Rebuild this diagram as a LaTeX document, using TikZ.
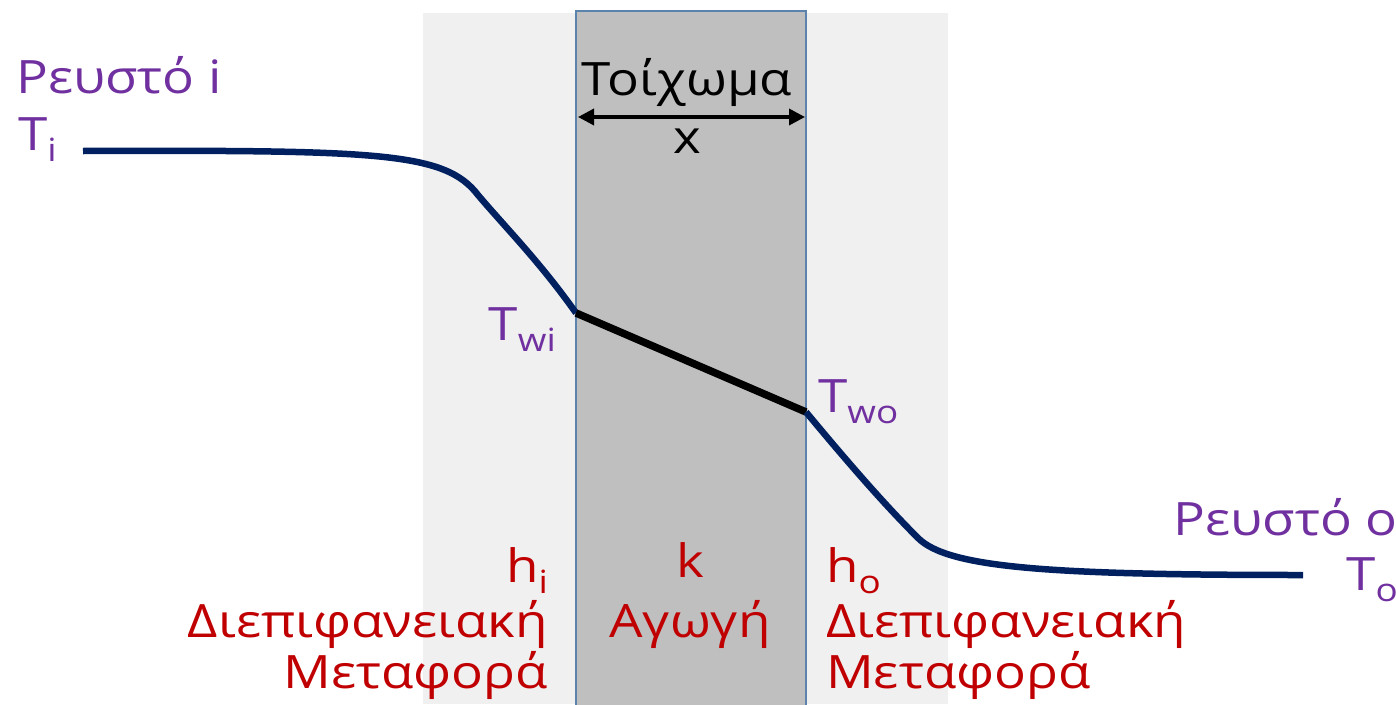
\documentclass[tikz,border=0pt]{standalone}
\usepackage{fontspec}
\setmainfont{Open Sans}
\usetikzlibrary{arrows.meta}
\definecolor{lightband}{HTML}{F0F0F0}
\definecolor{darkband}{HTML}{BFBFBF}
\definecolor{bandedge}{HTML}{5B83AE}
\definecolor{purp}{HTML}{7030A0}
\definecolor{redd}{HTML}{C00000}
\definecolor{navy}{HTML}{002060}
\newcommand{\widetxt}[1]{\scalebox{1.15}[1]{#1}}
\newcommand{\sbs}[1]{\raisebox{-11pt}{\fontsize{32}{34}\selectfont #1}}
\tikzset{
  lbl/.style={inner sep=0pt, font=\fontsize{46}{50}\selectfont},
  purplbl/.style={lbl, text=purp},
  redlbl/.style={lbl, text=redd},
  curve/.style={draw=navy, line width=6.5pt},
  wall/.style={draw=black, line width=7.5pt},
}
\begin{document}
\begin{tikzpicture}[x=1pt,y=-1pt]
\useasboundingbox (0,0) rectangle (1396,704);
\fill[lightband] (423,13) rectangle (948,704);
\filldraw[fill=darkband, draw=bandedge, line width=1.5pt] (576,11) rectangle (806,710);

% curve points
\coordinate (ti) at (83,151);
\coordinate (twi) at (576,313);
\coordinate (two) at (806,412);
\coordinate (to) at (1303,575);

\draw[curve] (ti) .. controls (380,150) and (445,152) .. (478,195)
   .. controls (505,227) and (540,262) .. (twi);
\draw[wall] (twi) -- (two);
\draw[curve] (two) .. controls (850,465) and (885,505) .. (918,538)
   .. controls (948,568) and (1050,575) .. (to);

% wall arrow
\coordinate (al) at (578,117);
\coordinate (ar) at (805,117);
\draw[line width=3.5pt, {Triangle[length=16pt,width=16pt]}-{Triangle[length=16pt,width=16pt]}] (al) -- (ar);
\node[lbl, anchor=base] (wallname) at (687,95) {\widetxt{Τοίχωμα}};
\node[lbl, anchor=base] (xlab) at (687,153) {\widetxt{x}};

% purple labels
\node[purplbl, anchor=base west] (fi) at (16,93) {\widetxt{Ρευστό i}};
\node[purplbl, anchor=base west] (tilab) at (18,150) {\widetxt{T\sbs{i}}};
\node[purplbl, anchor=base east] (twilab) at (556,340) {\widetxt{T\sbs{wi}}};
\node[purplbl, anchor=base west] (twolab) at (818,412) {\widetxt{T\sbs{wo}}};
\node[purplbl, anchor=base east] (fo) at (1398,535) {\widetxt{Ρευστό ο}};
\node[purplbl, anchor=base east] (tolab) at (1398,590) {\widetxt{T\sbs{o}}};

% red labels
\node[redlbl, anchor=base east] (hi) at (548,582) {\widetxt{h\sbs{i}}};
\node[redlbl, anchor=base east] (di) at (548,637) {\widetxt{Διεπιφανειακή}};
\node[redlbl, anchor=base east] (mi) at (548,688) {\widetxt{Μεταφορά}};
\node[redlbl, anchor=base] (klab) at (690,577) {\widetxt{k}};
\node[redlbl, anchor=base] (ag) at (690,637) {\widetxt{Αγωγή}};
\node[redlbl, anchor=base west] (ho) at (826,582) {\widetxt{h\sbs{o}}};
\node[redlbl, anchor=base west] (do) at (826,637) {\widetxt{Διεπιφανειακή}};
\node[redlbl, anchor=base west] (mo) at (826,688) {\widetxt{Μεταφορά}};
\end{tikzpicture}
\end{document}
